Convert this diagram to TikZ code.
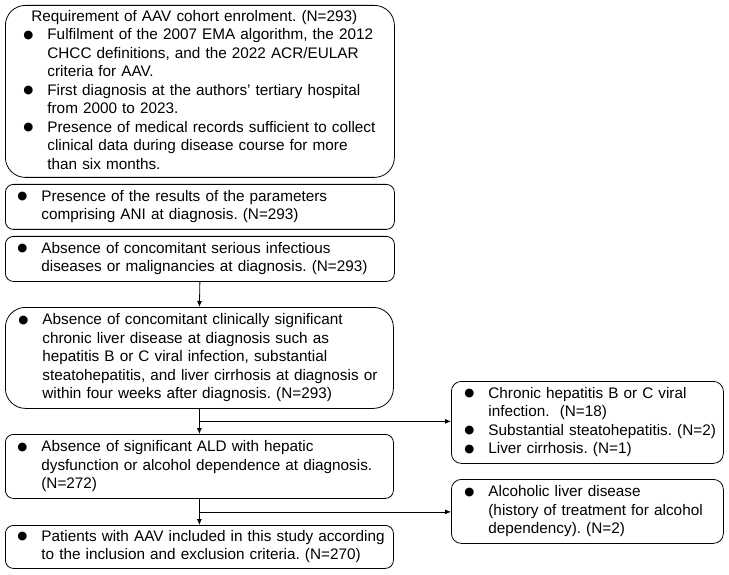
\documentclass[tikz,border=0pt]{standalone}
\usepackage{fontspec}
\setmainfont{Liberation Sans}
\newfontfamily\dotfont{DejaVu Sans}
\usetikzlibrary{arrows.meta, calc, positioning}
\tikzset{
  flow/.style={draw, line width=0.8pt, rounded corners=8pt, anchor=north west, align=left, inner xsep=12pt, inner ysep=0pt, font=\fontsize{15.3}{18.5}\selectfont\frenchspacing},
  flowbig/.style={flow, rounded corners=20pt},
  flowside/.style={flow, rounded corners=10pt, inner xsep=13pt},
  link/.style={-{Latex[length=6pt,width=5pt]}, line width=0.8pt}
}
\newcommand{\blt}{\makebox[24pt][l]{\raisebox{1.5pt}{\dotfont\fontsize{11.5}{11.5}\selectfont ●}}}

\begin{document}
\begin{tikzpicture}[x=1pt, y=-1pt]
\useasboundingbox (0,0) rectangle (729,575);

\node[flowbig, inner xsep=18pt, text width=353pt, minimum height=172pt] (req) at (5,5) {\begin{tabular}{@{}l@{}l@{}}
\multicolumn{2}{@{}l@{}}{\hspace*{8pt}Requirement of AAV cohort enrolment. (N=293)}\\
\blt & Fulfilment of the 2007 EMA algorithm, the 2012\\
 & CHCC definitions, and the 2022 ACR/EULAR\\
 & criteria for AAV.\\
\blt & First diagnosis at the authors’ tertiary hospital\\
 & from 2000 to 2023.\\
\blt & Presence of medical records sufficient to collect\\
 & clinical data during disease course for more\\
 & than six months.
\end{tabular}};

\node[flow, text width=365pt, minimum height=45pt] (ani) at (5,184) {\begin{tabular}{@{}l@{}l@{}}
\blt & Presence of the results of the parameters\\
 & comprising ANI at diagnosis. (N=293)
\end{tabular}};

\node[flow, text width=365pt, minimum height=45pt] (inf) at (5,236) {\begin{tabular}{@{}l@{}l@{}}
\blt & Absence of concomitant serious infectious\\
 & diseases or malignancies at diagnosis. (N=293)
\end{tabular}};

\node[flowbig, inner xsep=13pt, text width=362pt, minimum height=101pt] (liv) at (5,307) {\begin{tabular}{@{}l@{}l@{}}
\blt & Absence of concomitant clinically significant\\
 & chronic liver disease at diagnosis such as\\
 & hepatitis B or C viral infection, substantial\\
 & steatohepatitis, and liver cirrhosis at diagnosis or\\
 & within four weeks after diagnosis. (N=293)
\end{tabular}};

\node[flow, text width=364pt, minimum height=64pt] (ald) at (5,434) {\begin{tabular}{@{}l@{}l@{}}
\blt & Absence of significant ALD with hepatic\\
 & dysfunction or alcohol dependence at diagnosis.\\
 & (N=272)
\end{tabular}};

\node[flow, text width=364pt, minimum height=43pt] (fin) at (5,525) {\begin{tabular}{@{}l@{}l@{}}
\blt & Patients with AAV included in this study according\\
 & to the inclusion and exclusion criteria. (N=270)
\end{tabular}};

\node[flowside, text width=246pt, minimum height=82pt] (exliv) at (451,381) {\begin{tabular}{@{}l@{}l@{}}
\blt & Chronic hepatitis B or C viral\\
 & infection.~ (N=18)\\
\blt & Substantial steatohepatitis. (N=2)\\
\blt & Liver cirrhosis. (N=1)
\end{tabular}};

\node[flowside, text width=246pt, minimum height=64pt] (exald) at (451,479) {\begin{tabular}{@{}l@{}l@{}}
\blt & Alcoholic liver disease\\
 & (history of treatment for alcohol\\
 & dependency). (N=2)
\end{tabular}};

\coordinate (j1) at ($(liv.south)!0.5!(ald.north)$);
\coordinate (j2) at ($(ald.south)!0.5!(fin.north)$);

\draw[link] (inf.south) -- (liv.north);
\draw[link] (liv.south) -- (ald.north);
\draw[link] (j1) -- (j1 -| exliv.west);
\draw[link] (ald.south) -- (fin.north);
\draw[link] (j2) -- (j2 -| exald.west);
\end{tikzpicture}
\end{document}
